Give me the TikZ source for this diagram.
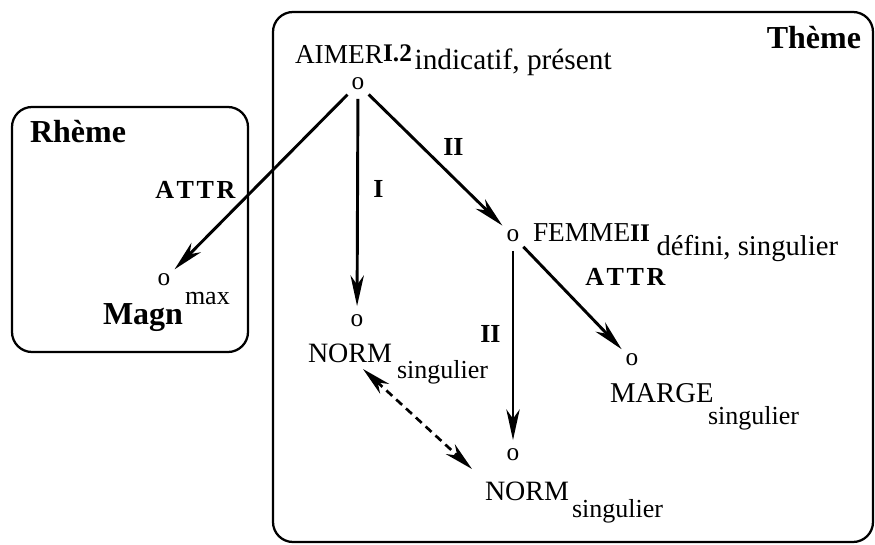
\documentclass[tikz,border=0pt]{standalone}
\usepackage{fontspec}
\setmainfont{Liberation Serif}
\usetikzlibrary{arrows.meta}
\newcommand{\myfs}[1]{\fontsize{#1}{#1}\selectfont}
\newcommand{\spacedattr}{A\kern2pt T\kern2pt T\kern2pt R}
\begin{document}
\begin{tikzpicture}[x=0.75pt,y=-0.75pt,
  txt/.style={anchor=base west,inner sep=0pt,outer sep=0pt},
  lab/.style={anchor=base west,inner sep=0pt,font=\bfseries\myfs{19.5pt}},
  vert/.style={circle,minimum size=22pt,inner sep=0pt,font=\myfs{19pt}},
  region/.style={draw,line width=1.7pt,rounded corners=15pt},
  arr/.style={line width=2.2pt,-{Stealth[length=23pt,width=10pt,inset=7pt]}},
  darr/.style={line width=2pt,dash pattern=on 6pt off 4pt,{Stealth[length=22pt,width=10pt,inset=7pt]}-{Stealth[length=22pt,width=10pt,inset=7pt]}}]
\useasboundingbox (0,0) rectangle (875,544);
% regions
\draw[region] (273,12) rectangle (873,542);
\draw[region] (12,107) rectangle (248,352);
\node[txt,anchor=base east,font=\bfseries\myfs{24pt}] (theme) at (861,48) {Thème};
\node[txt,font=\bfseries\myfs{24pt}] (rheme) at (30,142) {Rhème};
% vertices
\node[vert] (oA) at (358,84) {o};
\node[vert] (oMagn) at (164,280) {o};
\node[vert] (oN1) at (357,321) {o};
\node[vert] (oF) at (513,236) {o};
\node[vert] (oN2) at (513,455) {o};
\node[vert] (oM) at (632,360) {o};
% texts
\node[txt,font=\myfs{20.5pt}] (tAimer) at (295,63) {AIMER};
\node[txt,font=\bfseries\myfs{19pt},anchor=base west] (tAimerS) at ([yshift=1.5pt]tAimer.base east) {I.2};
\node[txt,font=\myfs{22pt}] (tAimerSub) at ([xshift=2pt,yshift=-6pt]tAimerS.base east) {indicatif, présent};
\node[txt,font=\myfs{20.5pt}] (tFemme) at (533,241) {FEMME};
\node[txt,font=\bfseries\myfs{19pt}] (tFemmeS) at (tFemme.base east) {II};
\node[txt,font=\myfs{21.5pt}] (tFemmeSub) at ([xshift=5pt,yshift=-11pt]tFemmeS.base east) {défini, singulier};
\node[txt,font=\myfs{21pt}] (tNorm1) at (308,362) {NORM};
\node[txt,font=\myfs{19.5pt}] (tNorm1Sub) at (397,378) {singulier};
\node[txt,font=\myfs{21pt}] (tNorm2) at (485,500) {NORM};
\node[txt,font=\myfs{19.5pt}] (tNorm2Sub) at (572,517) {singulier};
\node[txt,font=\myfs{21.5pt}] (tMarge) at (610,402) {MARGE};
\node[txt,font=\myfs{19.5pt}] (tMargeSub) at (708,424) {singulier};
\node[txt,font=\bfseries\myfs{24pt}] (tMagn) at (103,324) {Magn};
\node[txt,font=\myfs{19.5pt}] (tMax) at (185,304) {max};
% edge labels
\node[lab] (lAttr1) at (155,198) {\spacedattr};
\node[lab] (lI) at (373,197) {I};
\node[lab] (lII1) at (443,155) {II};
\node[lab] (lII2) at (480,342) {II};
\node[lab] (lAttr2) at (585,285) {\spacedattr};
% edges
\draw[arr] (oA) -- (oMagn);
\draw[arr] (oA) -- (oN1);
\draw[arr] (oA) -- (oF);
\draw[arr] (oF) -- (oN2);
\draw[arr] (oF) -- (oM);
\coordinate (d1) at (363,369);
\coordinate (d2) at (472,469);
\draw[darr] (d1) -- (d2);
\end{tikzpicture}
\end{document}
